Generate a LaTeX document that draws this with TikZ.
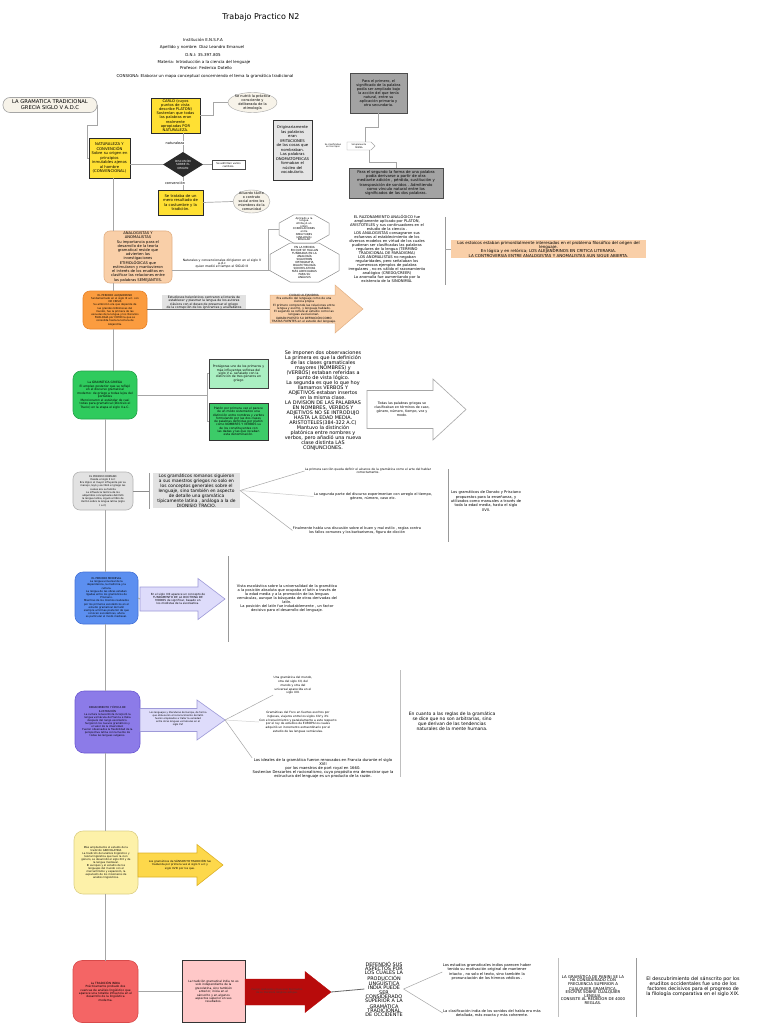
\documentclass[tikz,border=0pt]{standalone}
\usepackage{fontspec}
\setmainfont{DejaVu Sans}
\usetikzlibrary{shapes.geometric,shapes.symbols,calc}
\definecolor{lgray}{HTML}{A6A6A6}
\definecolor{cream}{HTML}{F7F3E9}
\definecolor{yel}{HTML}{FFE033}
\definecolor{dkd}{HTML}{2B2B2B}
\definecolor{lgfill}{HTML}{E5E5E5}
\definecolor{mgfill}{HTML}{A3A3A3}
\definecolor{peach}{HTML}{F9CFA8}
\definecolor{peachd}{HTML}{E3B185}
\definecolor{orng}{HTML}{FB9C3F}
\definecolor{orngd}{HTML}{E8832A}
\definecolor{grn}{HTML}{2FCB5D}
\definecolor{grnl}{HTML}{AAEFC2}
\definecolor{grn2}{HTML}{3CCB68}
\definecolor{gryb}{HTML}{E2E2E2}
\definecolor{blu}{HTML}{5C8FF0}
\definecolor{blud}{HTML}{4472D8}
\definecolor{lav}{HTML}{DEDCFB}
\definecolor{lavd}{HTML}{9E9AD8}
\definecolor{pur}{HTML}{8C7BE8}
\definecolor{purd}{HTML}{6B58D2}
\definecolor{lyel}{HTML}{FDF1A9}
\definecolor{lyeld}{HTML}{DCCF85}
\definecolor{yarr}{HTML}{FDD84B}
\definecolor{yarrd}{HTML}{DDB128}
\definecolor{rd}{HTML}{F46565}
\definecolor{rdd}{HTML}{D84A4A}
\definecolor{pnk}{HTML}{FFC8C8}
\definecolor{drd}{HTML}{B80B0B}
% block arrow: #1 style, #2 x left, #3 x head start, #4 x tip, #5 y centre, #6 body height, #7 head height
\newcommand\blockarrow[7]{%
  \filldraw[#1] (#2,{#5-#6/2}) -- (#3,{#5-#6/2}) -- (#3,{#5-#7/2}) -- (#4,#5) -- (#3,{#5+#7/2}) -- (#3,{#5+#6/2}) -- (#2,{#5+#6/2}) -- cycle;}
\newcommand\octagonat[1]{%
  \draw[draw=black!45, line width=0.5pt]
   ($(#1.north west)!0.29!(#1.north east)$) -- ($(#1.north west)!0.71!(#1.north east)$) --
   ($(#1.north east)!0.29!(#1.south east)$) -- ($(#1.north east)!0.71!(#1.south east)$) --
   ($(#1.south east)!0.29!(#1.south west)$) -- ($(#1.south east)!0.71!(#1.south west)$) --
   ($(#1.south west)!0.29!(#1.north west)$) -- ($(#1.south west)!0.71!(#1.north west)$) -- cycle;}
\begin{document}
\begin{tikzpicture}[x=1pt,y=-1pt,
  every node/.style={inner sep=0.5pt, outer sep=0pt, align=center},
  fs/.style 2 args={font=\fontsize{#1}{#2}\selectfont},
  conn/.style={draw=black!35, line width=0.7pt},
  brk/.style={draw=black!40, line width=0.9pt},
  bx/.style={draw, line width=0.6pt, inner sep=1pt},
  rbx/.style={bx, rounded corners=7pt}]
\useasboundingbox (0,0) rectangle (768,1024);
\fill[white] (0,0) rectangle (768,1024);
\coordinate (sp) at (113,0);
\coordinate (sp2) at (105,0);

% ---------------- header
\node[fs={8}{9}] (title) at (261,17) {Trabajo Practico N2};
\node[fs={4}{4.5}] (h1) at (203,40) {Institución E.N.S.F.A};
\node[fs={4}{4.5}] (h2) at (202,47) {Apellido y nombre: Diaz Leandro Emanuel};
\node[fs={4}{4.5}] (h3) at (203,55) {D.N.I: 35.397.805};
\node[fs={4}{4.5}] (h4) at (204,62) {Materia: Introducción a la ciencia del lenguaje};
\node[fs={4}{4.5}] (h5) at (206,68) {Profesor: Federico Dotello};
\node[fs={4}{4.5}] (h6) at (205,76) {CONSIGNA: Elaborar un mapa conceptual concerniendo el tema la gramática tradicional};

% ---------------- top block
\node[rbx, draw=lgray, fill=cream, minimum width=94pt, minimum height=15pt, fs={5.2}{6}] (gram) at (50,105) {LA GRAMATICA TRADICIONAL\\GRECIA SIGLO V A.D.C};
\node[bx, draw=dkd, fill=yel, minimum width=41pt, minimum height=40pt, fs={3.8}{4.5}] (nat) at (109.5,158) {NATURALEZA Y\\CONVENCIÓN\\Sobre su origen en\\principios\\inmutables ajenos\\al hombre\\(CONVENCIONAL)};
\node[bx, draw=dkd, fill=yel, minimum width=49pt, minimum height=35pt, fs={3.7}{4.1}] (carlo) at (175.5,115.5) {CARLO (cuyos\\puntos de vista\\describe PLATON)\\Sostenían que todas\\las palabras eran\\realmente\\apropiadas POR\\NATURALEZA.};
\node[ellipse, draw=lgray, fill=cream, minimum width=49pt, minimum height=20pt, inner sep=0pt] (etim) at (252.5,102.5) {};
\node[fs={3.5}{4}] (etimt) at (etim) {Se nutrió la práctica\\consciente y\\deliberada de la\\etimología};
\node[diamond, fill=dkd, aspect=1.6, minimum width=40pt, minimum height=25pt, inner sep=0pt] (dia) at (183,164.5) {};
\node[text=white, fs={2.8}{3.4}] (diat) at (dia) {DISCUSIÓN\\SOBRE EL\\ORIGEN};
\node[bx, draw=black!70, line width=0.4pt, fill=white, minimum width=33pt, minimum height=9pt, fs={2.6}{3}] (var) at (228.5,164.5) {Se admitían varios\\cambios.};
\node[bx, draw=dkd, fill=yel, minimum width=45pt, minimum height=25pt, fs={3.8}{4.5}] (ctrad) at (180.5,202.5) {Se trataba de un\\mero resultado de\\la costumbre y la\\tradición.};
\node[ellipse, draw=lgray, fill=cream, minimum width=37pt, minimum height=23pt, inner sep=0pt] (acu) at (251.5,201.5) {};
\node[fs={3.4}{4}] (acut) at (acu) {Acuerdo tácito\\o contrato\\social entre los\\miembros de la\\comunidad};
\node[bx, draw=black!80, fill=lgfill, minimum width=39pt, minimum height=60pt, fs={3.8}{4.5}] (orig) at (292.5,150) {Originariamente\\las palabras\\eran\\IMITACIONES\\de las cosas que\\nombraban.\\Las palabras\\ONOMATOPEICAS\\formaban el\\núcleo del\\vocabulario.};
\node[bx, draw=black!70, fill=mgfill, minimum width=57pt, minimum height=40pt, fs={3.6}{4.1}] (pg1) at (378.5,93) {Para el primero, el\\significado de la palabra\\podía ser ampliado bajo\\la acción del que tenía\\natural, entre su\\aplicación primaria y\\otra secundaria.};
\node[signal, signal to=east, draw=lgray, fill=white, minimum width=28pt, minimum height=8pt, fs={2.2}{2.6}] (sig) at (359,146) {Simplemente\\MISMA};
\node[fs={2.2}{2.6}] (clas) at (333,146) {Se clasificaban\\en tres tipos};
\node[bx, draw=black!70, fill=mgfill, minimum width=94pt, minimum height=30pt, fs={3.8}{4.3}] (pg2) at (396,183) {Para el segundo la forma de una palabra\\podía derivarse a partir de otra\\mediante adición , pérdida, sustitución y\\transposición de sonidos . Admitiendo\\como vínculo natural entre los\\significados de las dos palabras.};

\draw[conn] (gram.east) -- ++(0,20) -- ++(-10,0) |- (nat.west);
\draw[conn] (nat.east |- dia.west) -- (dia.west);
\draw[conn] (dia.north) -- (dia.north |- carlo.south);
\draw[conn] (dia.south) -- (dia.south |- ctrad.north);
\node[fill=white, fs={3.5}{4}] (lnat) at (175,143) {naturaleza};
\node[fill=white, fs={3.5}{4}] (lcon) at (175,183) {convención};
\draw[conn] (dia.east) -- (var.west);
\draw[conn] (carlo.east) -- ++(13,0) |- (etim.west);
\draw[conn] (ctrad.east) -- (acu.west);
\draw[conn] (pg1.south) -- ++(0,14) -| ($(sig.north)+(6,0)$);
\draw[conn] ($(sig.south)+(10,0)$) -- ++(0,12) -| (pg2.north);

% ---------------- analogistas
\node[rbx, draw=peachd, fill=peach, rounded corners=6pt, minimum width=68pt, minimum height=52pt, fs={3.7}{4.1}] (ana) at (138,257) {ANALOGISTAS Y\\ANOMALISTAS\\Su importancia para el\\desarrollo de la teoría\\gramatical reside que\\advierten las\\investigaciones\\ETIMOLÓGICAS que\\estimularon y mantuvieron\\el interés de los eruditos en\\clasificar las relaciones entre\\las palabras SEMEJANTES.};
\draw[conn] (nat.south -| sp) -- (ana.north -| sp);
\node[minimum width=50pt, minimum height=28pt, fs={2.6}{2.7}] (oct1) at (304,229) {Aplicado a la\\lengua\\Atribuyó un\\orden\\CORRELACIONES\\entre\\SIMILITUDES\\(ANALOGÍA)\\REGULAR};
\octagonat{oct1}
\node[minimum width=69pt, minimum height=39pt, fs={2.8}{3}] (oct2) at (304.5,262.5) {EN LA MEDIDA\\EN QUE SE HALLAN\\FUNDADAS EN LA\\ANALOGÍA\\SIGUIERON\\ORTOGRAFÍA\\DIALECTOLOGÍA\\SON RELATIVAS\\MÁS ADECUADAS\\PARA SU\\ANÁLISIS};
\octagonat{oct2}
\coordinate (j1) at (268,270);
\draw[conn] (ana.east |- j1) -- (oct2.west |- j1);
\draw[conn] (j1) |- (oct1.west);
\node[fs={3.1}{3.2}] (nt) at (222,263.5) {Naturales y convencionales dirigieron en el siglo V\\a.d.c\\quien medió el tiempo el SIGLO III};
\node[fs={3.7}{4}] (razon) at (387,249) {EL RAZONAMIENTO ANALÓGICO fue\\ampliamente aplicado por PLATON,\\ARISTOTELES y sus continuadores en el\\estudio de la ciencia .\\LOS ANALOGISTAS consagraron sus\\esfuerzos al establecimiento de los\\diversos modelos en virtud de los cuales\\pudieran ser clasificadas las palabras\\regulares de la lengua (TERMINO\\TRADICIONAL DE PARADIGMA)\\LOS ANOMALISTAS no negaban\\regularidades, pero señalaban los\\numerosos ejemplos de palabra\\irregulares , no es válido el razonamiento\\analógico (CREDO/CREER)\\La anomalía fue aumentando por la\\existencia de la SINONIMIA.};
\coordinate (b1t) at (445,217);
\coordinate (b1b) at (445,285);
\draw[brk] (b1t) -- (b1b);
\node[fill=peach, minimum width=195pt, minimum height=18pt, fs={4.05}{4.3}] (estoicos) at (548.5,249) {Los estoicos estaban primordialmente interesados en el problema filosófico del origen del\\lenguaje.\\En lógica y en retórica; LOS ALEJANDRINOS EN CRITICA LITERARIA.\\LA CONTROVERSIA ENTRE ANALOGISTAS Y ANOMALISTAS AUN SIGUE ABIERTA.};
\draw[conn] (b1t |- estoicos.west) -- (estoicos.west);

% ---------------- alejandrino
\node[rbx, draw=orngd, fill=orng, minimum width=64pt, minimum height=38pt, fs={2.6}{3.2}] (orange) at (115,310) {EL PERIODO ALEJANDRINO\\fundamentado en el siglo III a.C. con\\DE CRISIS\\Su ambición era que depende de\\las grandes bibliotecas del\\mundo, fue la primera de las\\escuelas de la lengua y los literarios\\FILOLOGÍA por COMO la que se\\consolida hasta la lectura de\\Alejandría.};
\draw[conn] (ana.south -| sp) -- (orange.north -| sp);
\node[fill=gryb, minimum width=84pt, minimum height=14pt, fs={3.1}{3.3}] (helen) at (204,302.5) {Estudiosos helenísticos centraron el interés de\\establecer y plasmar la lengua de los autores\\clásicos con el deseo de preservar el griego\\de la corrupción de los ignorantes y analfabetos};
\blockarrow{fill=peach, draw=peachd, line width=0.5pt}{270}{335}{363}{309}{28}{48}
\coordinate (pa1L) at (270,309);
\node[fs={2.9}{3.1}] (pat) at (304,309) {CIUDAD ALEJANDRIA\\Era estudio del lenguaje como de una\\ciencia propia\\El primero comprende las relaciones entre\\lengua y escrito, y lenguaje hablado.\\El segundo se refiere al estudio como las\\lenguas evolucionan.\\DARÁN PUESTO SU DEFINICIÓN COMO\\TRATAS FUENTES en el estudio del lenguaje.};
\draw[draw=black!55, line width=1pt] (orange.east |- pa1L) -- (pa1L);

% ---------------- griega
\node[rbx, draw=grn!80!black, fill=grn, rounded corners=8pt, minimum width=64pt, minimum height=48pt, fs={3}{3.5}] (green) at (105,395) {La GRAMÁTICA GRIEGA\\El empleo posterior que se reflejó\\en el discurso gramatical\\moderno: de griego a todas lejos del\\portátiles\\Mencionaron el estándar de casi\\todas para gramatical (Dionisio el\\Tracio) en la etapa el siglo II a.C.};
\draw[conn] (orange.south -| sp) -- (green.north -| sp);
\node[bx, draw=black!75, fill=grnl, minimum width=59pt, minimum height=29pt, fs={3.1}{3.4}] (gb1) at (238.5,373.5) {Protágoras uno de los primeros y\\más influyentes sofistas del\\siglo V a. señalado con la\\distinción de tres géneros en\\griego};
\node[bx, draw=black!80, fill=grn2, minimum width=59pt, minimum height=37pt, fs={3}{3.3}] (gb2) at (238.5,421.5) {Platón por primera vez el parece\\de un modo sistemático una\\distinción entre nombres y verbos\\formulando por las dos clases\\de palabras definidas por platón\\como NOMBRES Y VERBOS su\\de los constituyentes con\\las dadas y las que recaban\\esta denominación.};
\coordinate (j2) at (207,395);
\draw[conn] (green.east) -- (j2);
\draw[conn] (j2) |- (gb1.west);
\draw[conn] (j2) |- (gb2.west);
\node[fs={4.9}{5}] (seimp) at (323,401) {Se imponen dos observaciones\\La primera es que la definición\\de las clases gramaticales\\mayores (NOMBRES) y\\(VERBOS) estaban referidas a\\punto de vista lógico.\\La segunda es que lo que hoy\\llamamos VERBOS Y\\ADJETIVOS estaban insertos\\en la misma clase.\\LA DIVISION DE LAS PALABRAS\\EN NOMBRES, VERBOS Y\\ADJETIVOS NO SE INTRODUJO\\HASTA LA EDAD MEDIA.\\ARISTOTELES(384-322 A.C)\\Mantuvo la distinción\\platónica entre nombres y\\verbos, pero añadió una nueva\\clase distinta LAS\\CONJUNCIONES.};
\blockarrow{fill=white, draw=lgray, line width=0.6pt}{367}{433}{466}{409.5}{38}{61}
\node[fs={3.3}{3.9}] (wat) at (402,409.5) {Todas las palabras griegas se\\clasificaban en términos de caso,\\género, número, tiempo, voz y\\modo.};

% ---------------- romano
\node[rbx, draw=black!30, fill=gryb, minimum width=60pt, minimum height=38pt, fs={2.5}{3.2}] (gray) at (103,491) {EL PERIODO ROMANO\\Desde el siglo II A.C\\Era lógico el mayor influyente por su\\manejo, leyó y escribió el griego las\\cuales era su familia\\La influencia teórica de los\\adquiridos conceptuales delimitó\\la lengua latina, siguió al libro de\\Varrón sobre la lengua latina (siglo\\I a.C)};
\draw[conn] (green.south -| sp2) -- (gray.north -| sp2);
\coordinate (b2t) at (149,473);
\coordinate (b2b) at (149,509);
\draw[brk] (b2t) -- (b2b);
\draw[draw=black!45, line width=1pt] (gray.east) -- (gray.east -| b2t);
\node[fill=gryb, minimum width=87pt, minimum height=35pt, fs={4.4}{5}] (rom) at (196.5,490.5) {Los gramáticos romanos siguieron\\a sus maestros griegos no solo en\\los conceptos generales sobre el\\lenguaje, sino también en aspecto\\de detalle una gramática\\típicamente latina , análoga a la de\\DIONISIO TRACIO.};
\node[fs={3}{3.6}] (r1) at (368,471) {La primera sección queda definir el alcance de la gramática como el arte del hablar\\correctamente.};
\node[fs={3.5}{3.9}] (r2) at (373,496.5) {La segunda parte del discurso experimentan con arreglo el tiempo,\\género, número, caso etc.};
\node[fs={3.5}{3.9}] (r3) at (357,530.5) {Finalmente habla una discusión sobre el buen y mal estilo , reglas contra\\los fallos comunes y los barbarismos, figura de dicción};
\draw[conn, line width=0.5pt] (rom.east) -- (r1.west);
\draw[conn, line width=0.5pt, draw=black!22] (rom.east) -- (r2.west);
\draw[conn, line width=0.5pt] (rom.east) -- (r3.west);
\coordinate (b3t) at (448,469);
\coordinate (b3b) at (448,542);
\draw[brk] (b3t) -- (b3b);
\node[fs={3.7}{4.3}] (donato) at (486,501) {Los gramáticos de Donato y Prisciano\\propuestos para la enseñanza, y\\utilizados como manuales a través de\\toda la edad media, hasta el siglo\\XVII.};

% ---------------- medieval
\node[rbx, draw=blud, fill=blu, rounded corners=8pt, minimum width=63pt, minimum height=52pt, fs={2.6}{3.2}] (blue) at (106.5,598) {EL PERIODO MEDIEVAL\\La lengua universal de la\\dependencia, la medicina y la\\cultura.\\La lengua de las obras estaban\\ligadas entre los gramáticos de\\Prisciano.\\Mientras de los mismos realizados\\por los primeros escolásticos en el\\estudio gramatical del latín\\siempre a formas posterior de que\\conocen escolásticas, ahora\\es particular el modo medieval.};
\draw[conn] (gray.south -| sp2) -- (blue.north -| sp2);
\blockarrow{fill=lav, draw=lavd, line width=0.6pt}{140}{198}{225}{599}{24}{41}
\coordinate (la1L) at (140,599);
\node[fs={2.8}{3.1}] (la1t) at (178,599) {En el siglo XIII aparece un concepto de\\FUNDAMENTO DE LA DOCTRINA DE\\MODOS de significar, basado en\\los modistas de la escolástica.};
\draw[conn] (blue.east) -- (la1L);
\coordinate (b4t) at (228,556);
\coordinate (b4b) at (228,642);
\draw[brk] (b4t) -- (b4b);
\node[fs={3.6}{4}] (vista) at (287,598) {Vista escolástica sobre la universalidad de la gramática\\a la posición absoluta que ocupaba el latín a través de\\la edad media y a la promoción de las lenguas\\vernáculas, aunque la búsqueda de otras derivadas del\\latín.\\La posición del latín fue indudablemente , un factor\\decisivo para el desarrollo del lenguaje.};

% ---------------- renacimiento
\node[rbx, draw=purd, fill=pur, rounded corners=9pt, minimum width=65pt, minimum height=62pt, fs={2.6}{3.1}] (purple) at (107.5,722) {RENACIMIENTO Y ÉPOCA DE\\ILUSTRACIÓN\\La cultura renacentista incorporó la\\lengua vernácula de Francia e Italia\\después del rango escolástico.\\Surgieron los nuevos gramáticos y\\el valor de la diversidad.\\Fueron observados la flexibilidad de la\\perspectiva latina con la fuente de\\todas las lenguas vulgares.};
\draw[conn] (blue.south -| sp2) -- (purple.north -| sp2);
\blockarrow{fill=lav, draw=lavd, line width=0.6pt}{140}{197}{225}{720}{23}{40}
\coordinate (la2T) at (225,720);
\node[fs={2.4}{2.9}] (la2t) at (178,719) {Los lenguajes y literaturas de Europa, de forma\\que obtuvieron el reconocimiento del latín\\fueron empleados a tratar la variedad\\entre otras lenguas vernáculas en el\\siglo XVI};
\node[fs={2.9}{3.8}] (p1) at (293,685.5) {Una gramática del mundo,\\otra del siglo XII, del\\mundo y otra del\\universal aparecida en el\\siglo XIII.};
\node[fs={2.9}{3.7}] (p2) at (298,722) {Gramáticas del Foco en fuertes escritos por\\ingleses, viajeros entre los siglos XIV y XV.\\Con el renacimiento y paralelamente a este respecto\\por el rey de estudios de EUROPA los cuales\\adquirió un incremento extraordinario por el\\estudio de las lenguas vernáculas.};
\node[fs={3.8}{4.1}] (p3) at (323,768.5) {Los ideales de la gramática fueron renovados en Francia durante el siglo\\XVII\\por los maestros de port royal en 1660.\\Sostenían Descartes el racionalismo, cuyo propósito era demostrar que la\\estructura del lenguaje es un producto de la razón.};
\draw[conn, line width=0.5pt] (la2T) -- (p1.south west);
\draw[conn, line width=0.5pt, draw=black!18] (la2T) -- (p2.west);
\draw[conn, line width=0.5pt] (la2T) -- (p3.north west);
\coordinate (b5t) at (400,670);
\coordinate (b5b) at (400,777);
\draw[brk, draw=black!25] (b5t) -- (b5b);
\node[fs={4.5}{5}] (reglas) at (452,721) {En cuanto a las reglas de la gramática\\se dice que no son arbitrarias, sino\\que derivan de las tendencias\\naturales de la mente humana.};

% ---------------- grecolatina
\node[rbx, draw=lyeld, fill=lyel, rounded corners=9pt, minimum width=64pt, minimum height=63pt, fs={2.6}{3}] (lyellow) at (106,862.5) {Más ampliamente el estudio de la\\tradición GRECOLATINA\\La tradición del análisis lingüístico y\\teoría lingüística que tuvo la cien\\género, se desarrolló el siglo XIX y de\\la lengua medieval.\\El europeo y el estudio de los\\lenguajes del mundo con el\\mercantilismo y expansión, la\\expansión de los misioneros de\\análisis lingüísticos.};
\draw[conn] (purple.south -| sp2) -- (lyellow.north -| sp2);
\blockarrow{fill=yarr, draw=yarrd, line width=0.6pt}{138}{197}{223}{865}{24}{41}
\node[fs={2.7}{3.1}] (yat) at (180,865) {Los gramáticos de SÁNSCRITO TRADICIÓN fue\\traducida por primera vez el siglo V a.C y\\siglo XVIII por los que.};

% ---------------- india
\node[rbx, draw=rdd, fill=rd, rounded corners=9pt, minimum width=65pt, minimum height=62pt, fs={2.9}{3.4}] (red) at (105.5,991.5) {La TRADICIÓN INDIA\\Prácticamente probado dos\\cuencas de análisis lingüístico que\\aparece una notable influencia en el\\desarrollo de la lingüística\\moderna.};
\draw[conn] (lyellow.south -| sp2) -- (red.north -| sp2);
\node[bx, draw=black!80, fill=pnk, minimum width=63pt, minimum height=62pt, fs={2.9}{3.4}] (pink) at (213.5,991.5) {La tradición gramatical india no es\\solo independiente de la\\grecolatina, sino también\\anterior, inicia en el\\sánscrito y en algunos\\aspectos superior en sus\\resultados.};
\draw[conn] (red.east) -- (pink.west);
\blockarrow{fill=drd, draw=drd}{245}{305}{331}{992}{26}{41}
\coordinate (daT) at (331,992);
\node[fs={2.5}{3}, text=black!75] (dat) at (277,991) {Fueron realizados y buscaron fijar textos\\de su literatura religiosa antigua.};
\node[fs={4.9}{4.2}] (defend) at (384,989) {DEFENDIÓ SUS\\ASPECTOS POR\\LOS CUALES LA\\PRODUCCIÓN\\LINGÜÍSTICA\\INDIA PUEDE\\SER\\CONSIDERADO\\SUPERIOR A LA\\GRAMÁTICA\\TRADICIONAL\\DE OCCIDENTE};
\draw[draw=black!60, line width=0.8pt] (daT) -- (defend.west);
\node[fs={3.7}{4.1}] (i1) at (487,972) {Los estudios gramaticales indios parecen haber\\tenido su motivación original de mantener\\intacto , no solo el texto, sino también la\\pronunciación de los himnos védicos .};
\node[fs={3.6}{4.1}] (i2) at (492,1013) {La clasificación india de los sonidos del habla era más\\detallada, más exacta y más coherente.};
\draw[conn, line width=0.5pt] (defend.east) -- (i1.west);
\draw[conn, line width=0.5pt] (defend.east) -- (i2.west);
\coordinate (b6t) at (558,958);
\coordinate (b6b) at (558,1017);
\draw[brk, draw=black!25] (b6t) -- (b6b);
\node[fs={3.9}{3.6}] (panini) at (593,989.5) {LA GRAMÁTICA DE PANINI SE LA\\HA CONSIDERADO CON\\FRECUENCIA SUPERIOR A\\CUALQUIER GRAMÁTICA,\\ESCRITA SOBRE CUALQUIER\\LENGUA.\\CONSISTE AL REDEDOR DE 4000\\REGLAS.};
\coordinate (b7t) at (636,958);
\coordinate (b7b) at (636,1017);
\draw[brk] (b7t) -- (b7b);
\node[fs={4.8}{5}] (sansc) at (693,986.5) {El descubrimiento del sánscrito por los\\eruditos occidentales fue uno de los\\factores decisivos para el progreso de\\la filología comparativa en el siglo XIX.};
\end{tikzpicture}
\end{document}
